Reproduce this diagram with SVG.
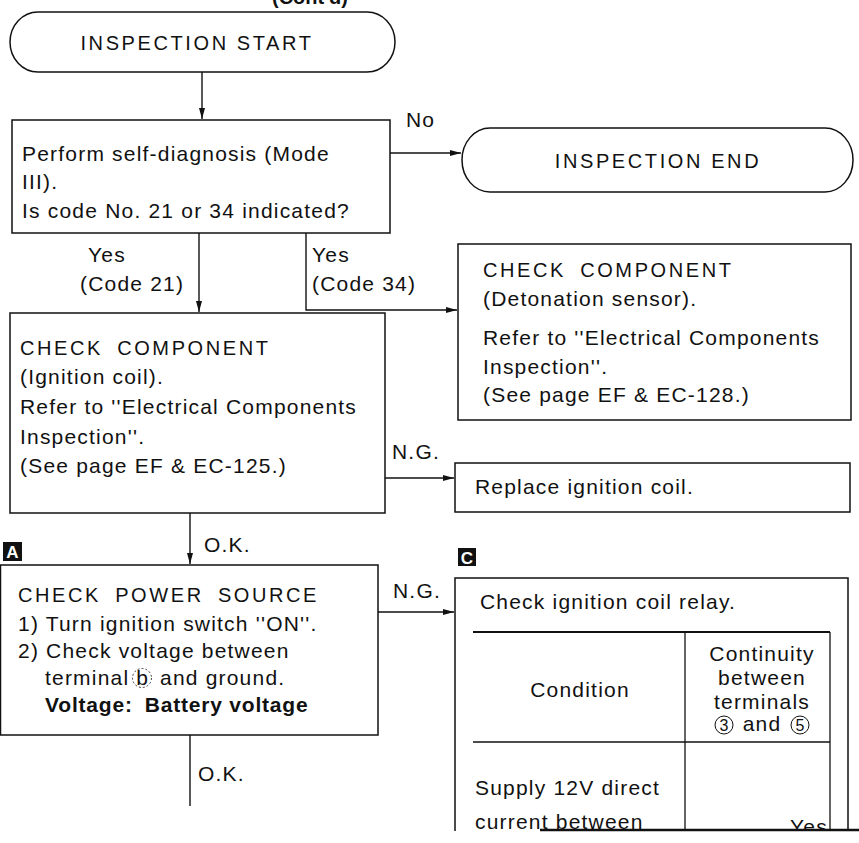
<svg xmlns="http://www.w3.org/2000/svg" width="859" height="843" viewBox="0 0 859 843">
<style>
.t{font-family:"Liberation Sans",Arial,sans-serif;font-size:21px;letter-spacing:1.2px;fill:#111}
.h{font-size:20px;letter-spacing:2.6px}
.w{word-spacing:6px}
.b{font-weight:bold;letter-spacing:0.8px}
.box{fill:#fff;stroke:#111;stroke-width:1.5}
.ln{stroke:#111;stroke-width:1.4;fill:none}
.tb{stroke:#111;stroke-width:1.3;fill:none}
.lab{font-family:"Liberation Sans",Arial,sans-serif;font-size:17px;font-weight:bold;fill:#fff}
</style>
<defs>
<marker id="ah" markerWidth="12" markerHeight="8" refX="11" refY="4" orient="auto" markerUnits="userSpaceOnUse">
<path d="M0,1 L11,4 L0,7 Z" fill="#111"/>
</marker>
</defs>
<rect width="859" height="843" fill="#fff"/>
<text x="272" y="4" style="font-family:'Liberation Sans',Arial,sans-serif;font-size:20px;font-weight:bold;fill:#111">(Cont'd)</text>

<g id="connectors">
<line class="ln" x1="202" y1="72" x2="202" y2="119" marker-end="url(#ah)"/>
<polyline class="ln" points="390,153 461,153" marker-end="url(#ah)"/>
<line class="ln" x1="199" y1="233" x2="199" y2="312" marker-end="url(#ah)"/>
<polyline class="ln" points="306,233 306,310 457,310" marker-end="url(#ah)"/>
<polyline class="ln" points="385,478 454,478" marker-end="url(#ah)"/>
<line class="ln" x1="190" y1="513" x2="190" y2="564" marker-end="url(#ah)"/>
<polyline class="ln" points="378,612 454,612" marker-end="url(#ah)"/>
<line class="ln" x1="190" y1="735" x2="190" y2="806"/>
<text x="406" y="127" class="t">No</text>
<text x="88" y="262" class="t">Yes</text>
<text x="80" y="291" class="t">(Code 21)</text>
<text x="312" y="262" class="t">Yes</text>
<text x="312" y="291" class="t">(Code 34)</text>
<text x="392" y="459" class="t">N.G.</text>
<text x="204" y="552" class="t">O.K.</text>
<text x="393" y="598" class="t">N.G.</text>
<text x="198" y="781" class="t">O.K.</text>
</g>

<g id="start">
<rect class="box" x="10" y="12" width="385" height="60" rx="28" ry="30"/>
<text x="197" y="50" class="t h" text-anchor="middle">INSPECTION START</text>
</g>

<g id="selfdiag">
<rect class="box" x="12" y="120" width="378" height="113"/>
<text x="22" y="161" class="t">Perform self-diagnosis (Mode</text>
<text x="22" y="189" class="t">III).</text>
<text x="22" y="218" class="t">Is code No. 21 or 34 indicated?</text>
</g>

<g id="end">
<rect class="box" x="462" y="128" width="391" height="64" rx="28" ry="32"/>
<text x="658" y="168" class="t h" text-anchor="middle">INSPECTION END</text>
</g>

<g id="detonation">
<rect class="box" x="458" y="244" width="393" height="176"/>
<text x="483" y="277" class="t h w">CHECK COMPONENT</text>
<text x="483" y="306" class="t">(Detonation sensor).</text>
<text x="483" y="345" class="t">Refer to ''Electrical Components</text>
<text x="483" y="374" class="t">Inspection''.</text>
<text x="483" y="402" class="t">(See page EF &amp; EC-128.)</text>
</g>

<g id="ignition">
<rect class="box" x="10" y="313" width="375" height="200"/>
<text x="20" y="355" class="t h w">CHECK COMPONENT</text>
<text x="20" y="384" class="t">(Ignition coil).</text>
<text x="20" y="414" class="t">Refer to ''Electrical Components</text>
<text x="20" y="444" class="t">Inspection''.</text>
<text x="20" y="473" class="t">(See page EF &amp; EC-125.)</text>
</g>

<g id="replace">
<rect class="box" x="455" y="463" width="395" height="49"/>
<text x="475" y="494" class="t">Replace ignition coil.</text>
</g>

<g id="labelA">
<rect x="3" y="542" width="19" height="19" fill="#111"/>
<text x="12.5" y="558" text-anchor="middle" class="lab">A</text>
</g>

<g id="powersource">
<rect class="box" x="0.5" y="565" width="377.5" height="170"/>
<text x="18" y="602" class="t h w">CHECK POWER SOURCE</text>
<text x="18" y="631" class="t">1) Turn ignition switch ''ON''.</text>
<text x="18" y="658" class="t">2) Check voltage between</text>
<text x="45" y="685" class="t">terminal</text>
<circle cx="142" cy="678" r="9.5" fill="none" stroke="#111" stroke-width="0.8" stroke-dasharray="2,2"/>
<text x="142" y="685" class="t" text-anchor="middle" style="letter-spacing:0">b</text>
<text x="160" y="685" class="t">and ground.</text>
<text x="45" y="712" class="t b">Voltage:<tspan dx="12">Battery voltage</tspan></text>
</g>

<g id="labelC">
<rect x="458" y="548" width="18" height="18" fill="#111"/>
<text x="467" y="563.5" text-anchor="middle" class="lab">C</text>
</g>

<g id="relay">
<path class="box" d="M455,835 L455,578 L848,578 L848,835"/>
<text x="480" y="609" class="t">Check ignition coil relay.</text>
<line x1="473" y1="632" x2="830" y2="632" stroke="#111" stroke-width="2.2"/>
<line class="tb" x1="685" y1="632" x2="685" y2="835"/>
<line class="tb" x1="830" y1="632" x2="830" y2="835"/>
<line class="tb" x1="473" y1="742" x2="830" y2="742"/>
<text x="580" y="697" class="t" text-anchor="middle">Condition</text>
<text x="762" y="661" class="t" text-anchor="middle">Continuity</text>
<text x="762" y="685" class="t" text-anchor="middle">between</text>
<text x="762" y="709" class="t" text-anchor="middle">terminals</text>
<circle cx="724" cy="725" r="9" fill="none" stroke="#111" stroke-width="1"/>
<text x="724" y="731" class="t" text-anchor="middle" style="letter-spacing:0;font-size:16px">3</text>
<text x="762" y="731" class="t" text-anchor="middle">and</text>
<circle cx="800" cy="725" r="9" fill="none" stroke="#111" stroke-width="1"/>
<text x="800" y="731" class="t" text-anchor="middle" style="letter-spacing:0;font-size:16px">5</text>
<text x="475" y="795" class="t">Supply 12V direct</text>
<text x="475" y="829" class="t">current between</text>
<text x="790" y="834" class="t">Yes</text>
<rect x="440" y="831" width="419" height="12" fill="#fff"/>
<line x1="540" y1="830" x2="859" y2="830" stroke="#111" stroke-width="2.5"/>
</g>
</svg>
